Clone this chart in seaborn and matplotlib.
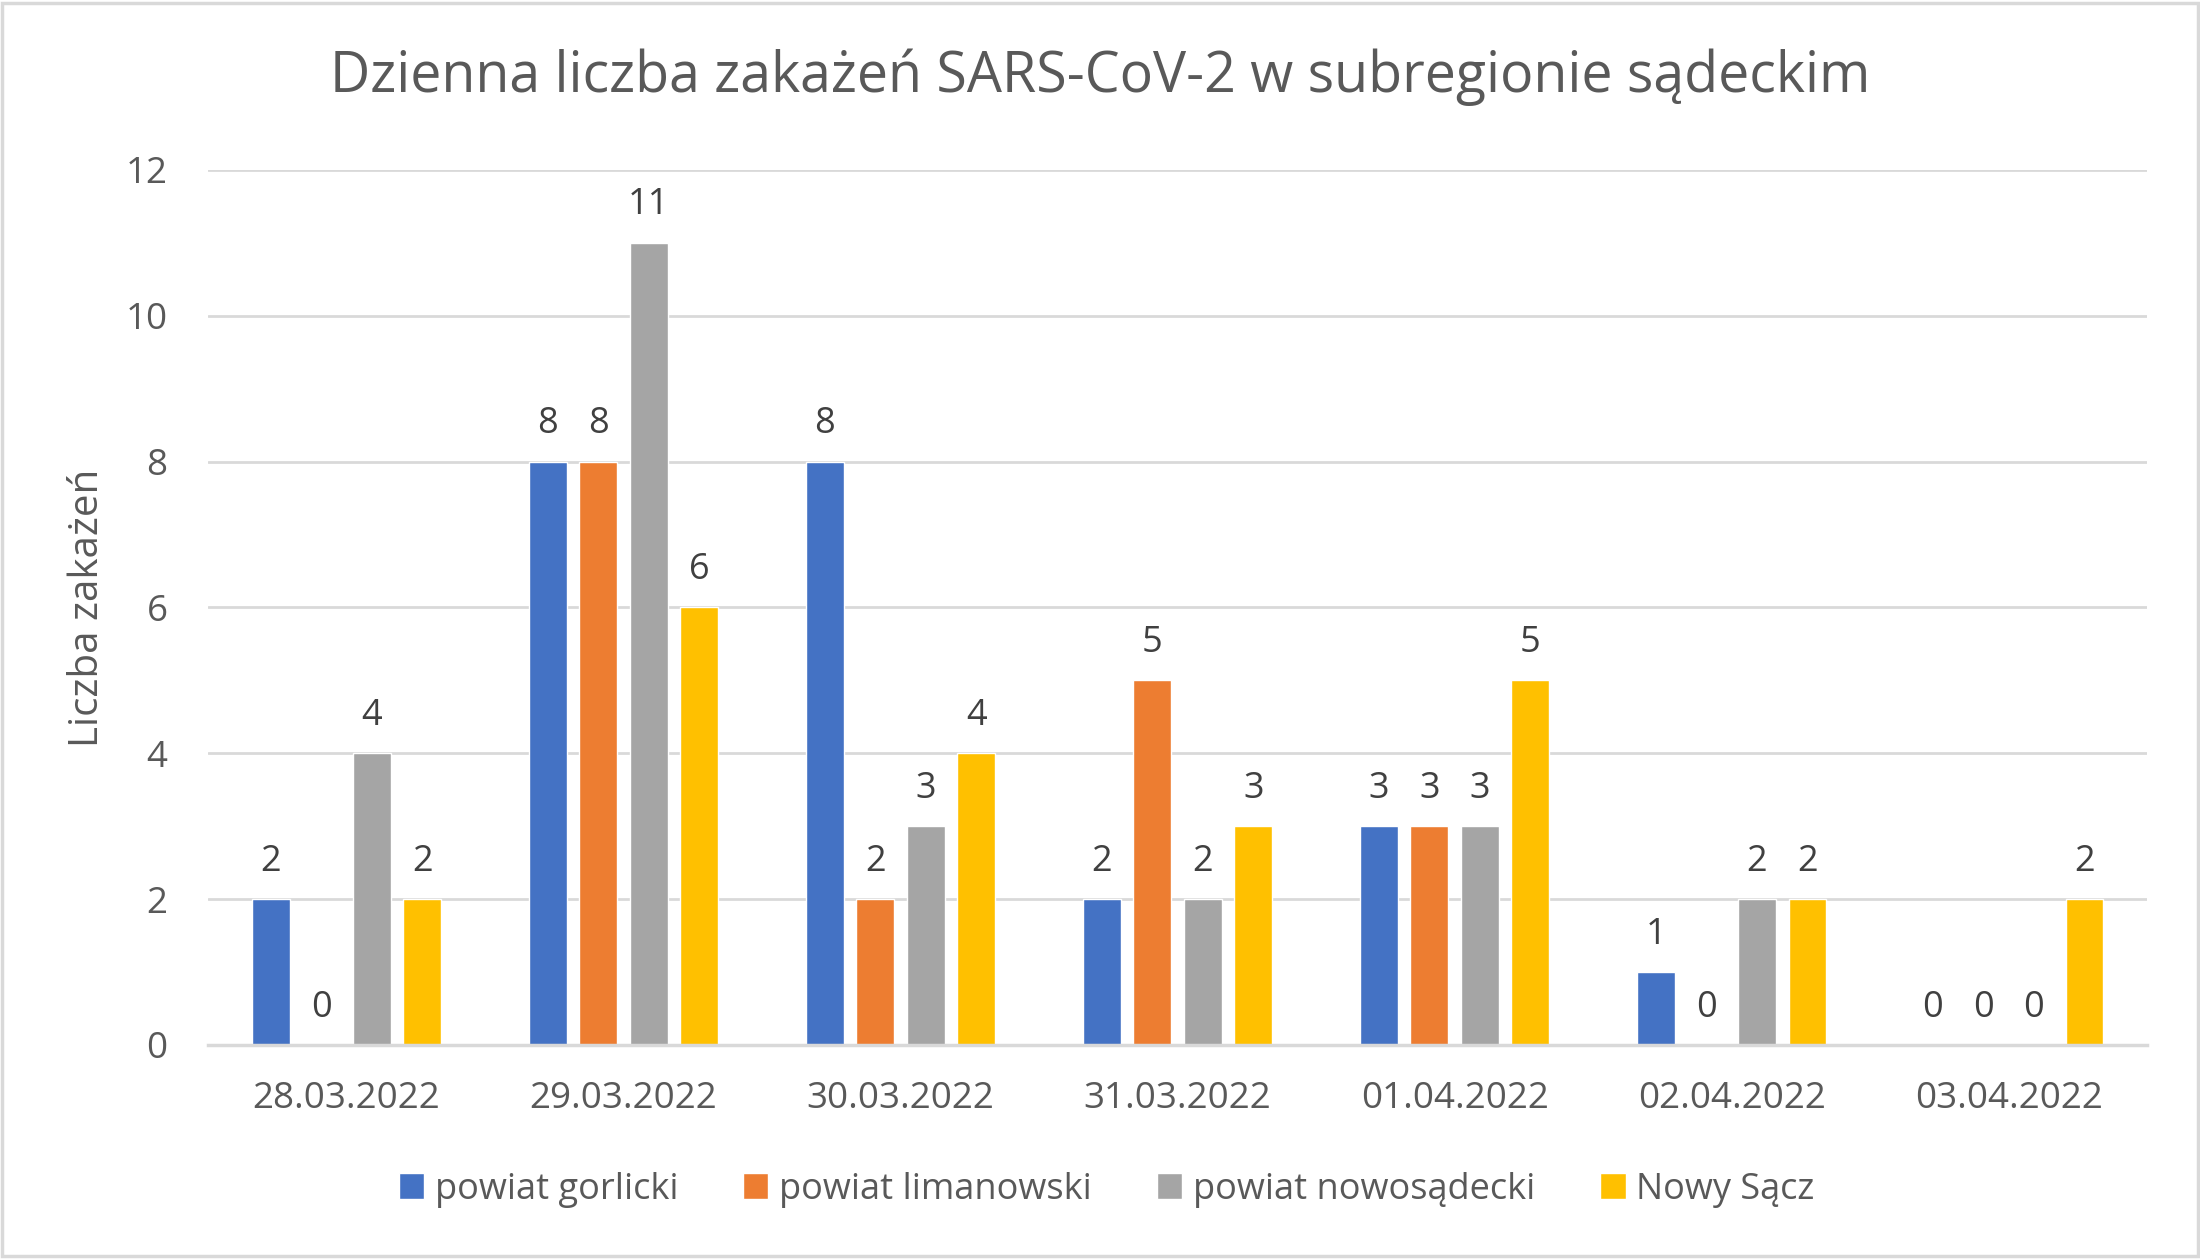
import numpy as np
import pandas as pd
import seaborn as sns
import matplotlib.pyplot as plt
from matplotlib.patches import Rectangle

# dane
dates = ['28.03.2022', '29.03.2022', '30.03.2022', '31.03.2022',
         '01.04.2022', '02.04.2022', '03.04.2022']
gorlicki = [2, 8, 8, 2, 3, 1, 0]
limanowski = [0, 8, 2, 5, 3, 0, 0]
nowosadecki = [4, 11, 3, 2, 3, 2, 0]
nowy_sacz = [2, 6, 4, 3, 5, 2, 2]
series = ['powiat gorlicki', 'powiat limanowski', 'powiat nowosądecki', 'Nowy Sącz']
colors = ['#4472C4', '#ED7D31', '#A5A5A5', '#FFC000']
yticks = [0, 2, 4, 6, 8, 10, 12]

df = pd.DataFrame({
    'data': dates * 4,
    'powiat': np.repeat(series, len(dates)),
    'liczba': gorlicki + limanowski + nowosadecki + nowy_sacz,
})

sns.set_style('white')
plt.rcParams['font.family'] = ['Open Sans', 'DejaVu Sans']
txt = '#595959'
grid = '#D9D9D9'

fig = plt.figure(figsize=(22, 12.59), dpi=100)
ax = fig.add_axes([0.0945, 0.170, 0.8815, 0.695])

sns.barplot(data=df, x='data', y='liczba', hue='powiat', palette=colors,
            width=0.73, gap=0.25, ax=ax, saturation=1)

# etykiety danych
for cont in ax.containers:
    ax.bar_label(cont, padding=14, fontsize=26, color='#404040')

ax.set_ylim(0, 12)
ax.set_xlim(-0.5, len(dates) - 0.5)
ax.set_yticks(yticks)
ax.yaxis.grid(True, color=grid, lw=2)
ax.set_axisbelow(True)
for s in ['top', 'right', 'left']:
    ax.spines[s].set_visible(False)
ax.spines['bottom'].set_color(grid)
ax.spines['bottom'].set_linewidth(2.5)
ax.tick_params(axis='y', length=0, pad=29, labelsize=26.5, labelcolor=txt)
ax.tick_params(axis='x', length=0, pad=26, labelsize=26.5, labelcolor=txt)
ax.set_xlabel('')
ax.set_ylabel('Liczba zakażeń', fontsize=29, color=txt, va='center')
ax.yaxis.set_label_coords(-0.062, 0.5)

fig.suptitle('Dzienna liczba zakażeń SARS-CoV-2 w subregionie sądeckim',
             x=0.5, y=0.939, va='center', fontsize=40, color=txt)

# legenda
h, l = ax.get_legend_handles_labels()
ax.get_legend().remove()
fig.legend(h, l, loc='center', bbox_to_anchor=(0.503, 0.055), ncol=4,
           frameon=False, fontsize=26, labelcolor=txt,
           handlelength=0.7, handleheight=0.7, handletextpad=0.3,
           columnspacing=1.8)

# ramka wykresu
fig.patches.append(Rectangle((0.001, 0.002), 0.998, 0.996, transform=fig.transFigure,
                             fill=False, edgecolor=grid, lw=2.5))

fig.savefig('out.png', dpi=100)
